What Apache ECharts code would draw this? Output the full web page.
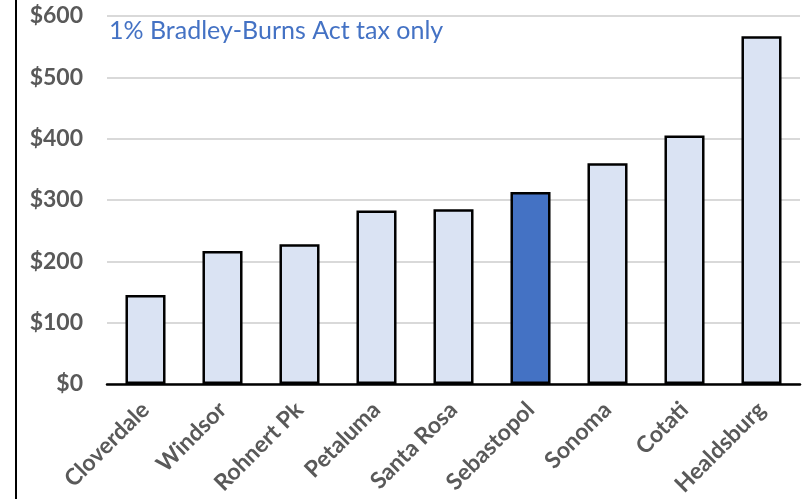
<!DOCTYPE html>
<html>
<head>
<meta charset="utf-8">
<script src="https://cdn.jsdelivr.net/npm/echarts@6/dist/echarts.min.js"></script>
<style>
html,body{margin:0;padding:0;background:#fff;}
#chart{width:808px;height:499px;}
</style>
</head>
<body>
<div id="chart"></div>
<script>
// Per-capita sales tax revenue by city (1% Bradley-Burns share)
const cities = ['Cloverdale', 'Windsor', 'Rohnert Pk', 'Petaluma', 'Santa Rosa', 'Sebastopol', 'Sonoma', 'Cotati', 'Healdsburg'];
const revenue = [145, 217, 228, 283, 285, 313, 360, 405, 567];
const highlightCity = 'Sebastopol';
const noteText = '1% Bradley-Burns Act tax only';

const chart = echarts.init(document.getElementById('chart'));
const labelFont = 'Lato, "Open Sans", sans-serif';

chart.setOption({
  animation: false,
  grid: { left: 107, right: 8, top: 16, bottom: 115, containLabel: false },
  graphic: [
    { type: 'line', shape: { x1: 16, y1: 0, x2: 16, y2: 499 }, style: { stroke: '#000', lineWidth: 2 } },
    { type: 'text', left: 109, top: 18, style: { text: noteText, fill: '#4472c4', font: '25px ' + labelFont } }
  ],
  xAxis: {
    type: 'category',
    data: cities,
    axisLine: { lineStyle: { color: '#000', width: 2.5 } },
    axisTick: { show: false },
    axisLabel: {
      rotate: 45, interval: 0, margin: 22,
      color: '#595959', fontWeight: 'bold', fontSize: 23, fontFamily: labelFont
    }
  },
  yAxis: {
    type: 'value',
    min: 0, max: 600, interval: 100,
    axisLine: { show: false },
    axisTick: { show: false },
    splitLine: { lineStyle: { color: '#d9d9d9', width: 2 } },
    axisLabel: {
      margin: 24,
      formatter: v => '$' + v,
      color: '#595959', fontWeight: 'bold', fontSize: 23, fontFamily: labelFont
    }
  },
  series: [{
    type: 'bar',
    barCategoryGap: '48%',
    data: revenue.map((v, i) => ({
      value: v,
      itemStyle: { color: cities[i] === highlightCity ? '#4472c4' : '#dae3f3' }
    })),
    itemStyle: { borderColor: '#000', borderWidth: 2.5 }
  }]
});
</script>
</body>
</html>
